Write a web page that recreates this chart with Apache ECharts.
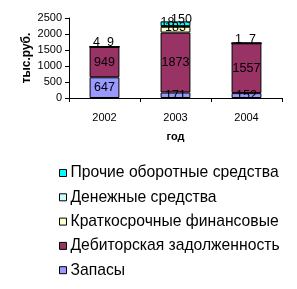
<!DOCTYPE html>
<html><head><meta charset="utf-8">
<script src="https://cdn.jsdelivr.net/npm/echarts@6/dist/echarts.min.js"></script>
<style>html,body{margin:0;padding:0;background:#fff}#c{width:297px;height:289px}</style>
</head><body><div id="c"></div>
<script>
var categories = ['2002', '2003', '2004'];
var zapasy = [647, 171, 152];
var debitor = [949, 1873, 1557];
var kratko = [0, 183, 0];
var denezh = [4, 18, 1];
var prochie = [9, 150, 7];
var yTicks = [0, 500, 1000, 1500, 2000, 2500];
var names = ['Запасы', 'Дебиторская задолженность', 'Краткосрочные финансовые', 'Денежные средства', 'Прочие оборотные средства'];
var colors = ['#9999FF', '#993366', '#FFFFCC', '#CCFFFF', '#00FFFF'];
var values = [zapasy, debitor, kratko, denezh, prochie];
var font = 'Liberation Sans, Arial, sans-serif';
var offsets = [[0,0],[0,0],[0,-2],[-8,-4],[6,-4]];
var series = values.map(function (v, i) {
  return {
    name: names[i], type: 'bar', stack: 's', barWidth: '42%',
    data: v,
    itemStyle: { color: colors[i], borderColor: '#000', borderWidth: 1 },
    label: {
      show: true, position: 'inside', color: '#000', fontFamily: font, fontSize: 12.5,
      offset: offsets[i],
      formatter: function (p) { return p.value ? String(p.value) : ''; }
    }
  };
});
var chart = echarts.init(document.getElementById('c'), null, { renderer: 'canvas' });
chart.setOption({
  animation: false,
  grid: { left: 69, right: 15, top: 18, height: 80 },
  legend: {
    orient: 'vertical', left: 54, top: 160, itemWidth: 7, itemHeight: 7, itemGap: 8.3,
    data: names.slice().reverse(),
    icon: 'rect',
    itemStyle: { borderColor: '#000', borderWidth: 1 },
    textStyle: { fontFamily: font, fontSize: 15.7, color: '#000', padding: [0,0,0,-1] }
  },
  xAxis: {
    type: 'category', data: categories,
    name: 'год', nameLocation: 'middle', nameGap: 33, nameMoveOverlap: false,
    nameTextStyle: { fontFamily: font, fontSize: 11, fontWeight: 'bold', color: '#000' },
    axisLine: { lineStyle: { color: '#000' } },
    axisTick: { show: true, lineStyle: { color: '#000' }, length: 4 },
    axisLabel: { fontFamily: font, fontSize: 11, color: '#000', margin: 14 }
  },
  yAxis: {
    type: 'value', min: yTicks[0], max: yTicks[yTicks.length - 1], interval: 500,
    name: 'тыс.руб.', nameLocation: 'middle', nameGap: 36, nameRotate: 90, nameMoveOverlap: false,
    nameTextStyle: { fontFamily: font, fontSize: 12, fontWeight: 'bold', color: '#000' },
    axisLine: { show: true, lineStyle: { color: '#000' } },
    axisTick: { show: true, inside: false, lineStyle: { color: '#000' }, length: 4 },
    splitLine: { show: false },
    axisLabel: { fontFamily: font, fontSize: 11, color: '#000', margin: 7,
      formatter: function (v) { return String(v); } }
  },
  series: series
});
</script></body></html>
